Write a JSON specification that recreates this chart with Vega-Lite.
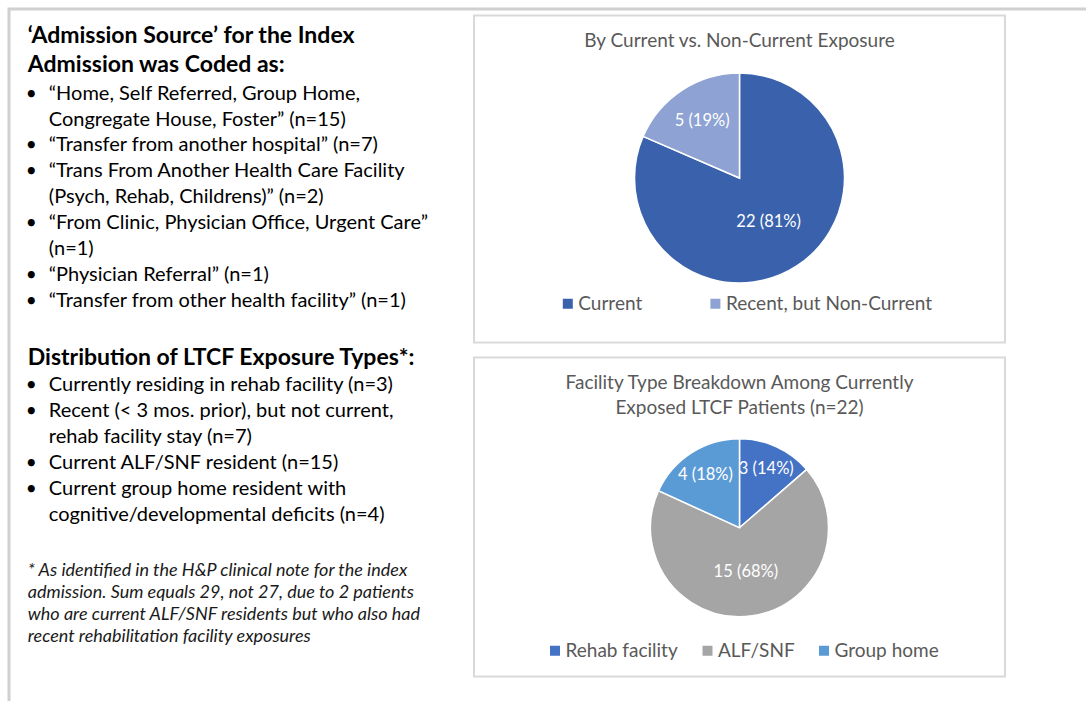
{
  "$schema": "https://vega.github.io/schema/vega-lite/v6.json",
  "background": "white",
  "padding": {"left": 7, "top": 7, "right": 0, "bottom": 0},
  "bounds": "flush",
  "spacing": 0,
  "resolve": {"scale": {"color": "independent", "theta": "independent", "radius": "independent"}, "legend": {"color": "independent"}},
  "config": {"view": {"stroke": null}, "font": "Lato"},
  "datasets": {
    "lines": [
      {"block": "h1", "line": 0, "indent": 0, "bullet": false, "text": "‘Admission Source’ for the Index"},
      {"block": "h1", "line": 1, "indent": 0, "bullet": false, "text": "Admission was Coded as:"},
      {"block": "list1", "line": 0, "indent": 1, "bullet": true, "text": "“Home, Self Referred, Group Home,"},
      {"block": "list1", "line": 1, "indent": 1, "bullet": false, "text": "Congregate House, Foster” (n=15)"},
      {"block": "list1", "line": 2, "indent": 1, "bullet": true, "text": "“Transfer from another hospital” (n=7)"},
      {"block": "list1", "line": 3, "indent": 1, "bullet": true, "text": "“Trans From Another Health Care Facility"},
      {"block": "list1", "line": 4, "indent": 1, "bullet": false, "text": "(Psych, Rehab, Childrens)” (n=2)"},
      {"block": "list1", "line": 5, "indent": 1, "bullet": true, "text": "“From Clinic, Physician Office, Urgent Care”"},
      {"block": "list1", "line": 6, "indent": 1, "bullet": false, "text": "(n=1)"},
      {"block": "list1", "line": 7, "indent": 1, "bullet": true, "text": "“Physician Referral” (n=1)"},
      {"block": "list1", "line": 8, "indent": 1, "bullet": true, "text": "“Transfer from other health facility” (n=1)"},
      {"block": "sec2", "line": 0, "indent": 0, "bullet": false, "heading": true, "text": "Distribution of LTCF Exposure Types*:"},
      {"block": "sec2", "line": 1, "indent": 1, "bullet": true, "heading": false, "text": "Currently residing in rehab facility (n=3)"},
      {"block": "sec2", "line": 2, "indent": 1, "bullet": true, "heading": false, "text": "Recent (< 3 mos. prior), but not current,"},
      {"block": "sec2", "line": 3, "indent": 1, "bullet": false, "heading": false, "text": "rehab facility stay (n=7)"},
      {"block": "sec2", "line": 4, "indent": 1, "bullet": true, "heading": false, "text": "Current ALF/SNF resident (n=15)"},
      {"block": "sec2", "line": 5, "indent": 1, "bullet": true, "heading": false, "text": "Current group home resident with"},
      {"block": "sec2", "line": 6, "indent": 1, "bullet": false, "heading": false, "text": "cognitive/developmental deficits (n=4)"},
      {"block": "note", "line": 0, "indent": 0, "bullet": false, "text": "* As identified in the H&P clinical note for the index"},
      {"block": "note", "line": 1, "indent": 0, "bullet": false, "text": "admission. Sum equals 29, not 27, due to 2 patients"},
      {"block": "note", "line": 2, "indent": 0, "bullet": false, "text": "who are current ALF/SNF residents but who also had"},
      {"block": "note", "line": 3, "indent": 0, "bullet": false, "text": "recent rehabilitation facility exposures"}
    ],
    "exposure": [
      {"exposure": "Current", "patients": 22, "rank": 1, "label": "22 (81%)"},
      {"exposure": "Recent, but Non-Current", "patients": 5, "rank": 2, "label": "5 (19%)"}
    ],
    "facility": [
      {"facility": "Rehab facility", "patients": 3, "rank": 1, "label": "3 (14%)"},
      {"facility": "ALF/SNF", "patients": 15, "rank": 2, "label": "15 (68%)"},
      {"facility": "Group home", "patients": 4, "rank": 3, "label": "4 (18%)"}
    ]
  },
  "hconcat": [
    {
      "width": 465,
      "height": 720,
      "view": {"stroke": "#d0d0d0", "strokeWidth": 3, "strokeDash": [465, 720, 2000]},
      "data": {"name": "lines"},
      "encoding": {
        "x": {"field": "indent", "type": "quantitative", "scale": {"domain": [0, 1], "range": [18.8, 39.8]}, "axis": null},
        "text": {"field": "text"}
      },
      "resolve": {"scale": {"y": "independent"}},
      "layer": [
        {
          "transform": [{"filter": "datum.block == 'h1'"}],
          "mark": {"type": "text", "align": "left", "baseline": "alphabetic", "font": "Lato", "fontWeight": "bold", "fontSize": 23, "color": "#000000"},
          "encoding": {"y": {"field": "line", "type": "ordinal", "scale": {"type": "point", "padding": 0, "range": [34.2, 63.2]}, "axis": null}}
        },
        {
          "transform": [{"filter": "datum.block == 'list1'"}],
          "encoding": {"y": {"field": "line", "type": "ordinal", "scale": {"type": "point", "padding": 0, "range": [90.8, 297.5]}, "axis": null}},
          "layer": [
            {"mark": {"type": "text", "align": "left", "baseline": "alphabetic", "font": "Lato", "fontSize": 20, "color": "#000000"}},
            {
              "transform": [{"filter": "datum.bullet"}],
              "mark": {"type": "text", "align": "center", "baseline": "alphabetic", "font": "Lato", "fontSize": 19, "color": "#000000", "dx": 3.5},
              "encoding": {"x": {"datum": 0}, "text": {"value": "•"}}
            }
          ]
        },
        {
          "transform": [{"filter": "datum.block == 'sec2'"}],
          "encoding": {"y": {"field": "line", "type": "ordinal", "scale": {"type": "point", "padding": 0, "range": [355.8, 512.2]}, "axis": null}},
          "layer": [
            {
              "transform": [{"filter": "datum.heading"}],
              "mark": {"type": "text", "align": "left", "baseline": "alphabetic", "font": "Lato", "fontWeight": "bold", "fontSize": 23, "color": "#000000"}
            },
            {
              "transform": [{"filter": "!datum.heading"}],
              "mark": {"type": "text", "align": "left", "baseline": "alphabetic", "font": "Lato", "fontSize": 20, "color": "#000000"}
            },
            {
              "transform": [{"filter": "datum.bullet"}],
              "mark": {"type": "text", "align": "center", "baseline": "alphabetic", "font": "Lato", "fontSize": 19, "color": "#000000", "dx": 3.5},
              "encoding": {"x": {"datum": 0}, "text": {"value": "•"}}
            }
          ]
        },
        {
          "transform": [{"filter": "datum.block == 'note'"}],
          "mark": {"type": "text", "align": "left", "baseline": "alphabetic", "font": "Lato", "fontStyle": "italic", "fontSize": 18, "color": "#1a1a1a"},
          "encoding": {"y": {"field": "line", "type": "ordinal", "scale": {"type": "point", "padding": 0, "range": [566.5, 632.5]}, "axis": null}}
        }
      ]
    },
    {
      "bounds": "flush",
      "spacing": 5.5,
      "resolve": {"scale": {"color": "independent", "theta": "independent", "radius": "independent"}, "legend": {"color": "independent"}},
      "vconcat": [
        {
          "width": 620,
          "height": 1,
          "view": {"stroke": "#d0d0d0", "strokeWidth": 3, "strokeDash": [620, 5000]},
          "data": {"values": [{"frame": "top"}]},
          "mark": {"type": "text", "baseline": "top", "fontSize": 1},
          "encoding": {"text": {"value": ""}}
        },
        {
          "bounds": "flush",
          "spacing": 15,
          "resolve": {"scale": {"color": "independent", "theta": "independent", "radius": "independent"}, "legend": {"color": "independent"}},
          "vconcat": [
            {
              "width": 531,
              "height": 327,
              "view": {"stroke": "#d9d9d9", "strokeWidth": 2},
              "title": {"text": "By Current vs. Non-Current Exposure", "orient": "top", "anchor": "middle", "frame": "group", "offset": -44.5, "baseline": "middle", "font": "Lato", "fontSize": 19, "fontWeight": "normal", "color": "#595959"},
              "data": {"name": "exposure"},
              "encoding": {
                "theta": {"field": "patients", "type": "quantitative", "stack": true},
                "order": {"field": "rank", "type": "quantitative"}
              },
              "layer": [
                {
                  "mark": {"type": "arc", "outerRadius": 105, "stroke": "white", "strokeWidth": 1.5, "yOffset": -1},
                  "encoding": {
                    "color": {
                      "field": "exposure", "type": "nominal",
                      "scale": {"domain": ["Current", "Recent, but Non-Current"], "range": ["#3A62AC", "#8EA2D3"]},
                      "legend": {"orient": "none", "legendX": 84.3, "legendY": 278.5, "direction": "horizontal", "title": null, "symbolType": "square", "symbolSize": 100, "symbolStrokeWidth": 0, "labelFont": "Lato", "labelFontSize": 19, "labelColor": "#595959", "labelOffset": 1, "columnPadding": 63.6, "labelLimit": 400}
                    }
                  }
                },
                {
                  "mark": {"type": "text", "font": "Lato", "fontSize": 16.5, "color": "white", "align": "center", "baseline": "middle", "yOffset": -1},
                  "encoding": {
                    "detail": {"field": "exposure"},
                    "radius": {"field": "patients", "type": "quantitative", "scale": {"type": "linear", "zero": false, "domain": [5, 22], "range": [68, 53]}},
                    "text": {"field": "label"}
                  }
                }
              ]
            },
            {
              "width": 531,
              "height": 319,
              "view": {"stroke": "#d9d9d9", "strokeWidth": 2},
              "title": {"text": ["Facility Type Breakdown Among Currently", "Exposed LTCF Patients (n=22)"], "lineHeight": 25, "orient": "top", "anchor": "middle", "frame": "group", "offset": -69, "baseline": "middle", "font": "Lato", "fontSize": 19, "fontWeight": "normal", "color": "#595959"},
              "data": {"name": "facility"},
              "encoding": {
                "theta": {"field": "patients", "type": "quantitative", "stack": true},
                "order": {"field": "rank", "type": "quantitative"}
              },
              "layer": [
                {
                  "mark": {"type": "arc", "outerRadius": 89, "stroke": "white", "strokeWidth": 1.5, "yOffset": 10.7},
                  "encoding": {
                    "color": {
                      "field": "facility", "type": "nominal",
                      "scale": {"domain": ["Rehab facility", "ALF/SNF", "Group home"], "range": ["#4472C4", "#A5A5A5", "#5B9BD5"]},
                      "legend": {"orient": "none", "legendX": 71.5, "legendY": 283.5, "direction": "horizontal", "title": null, "symbolType": "square", "symbolSize": 100, "symbolStrokeWidth": 0, "labelFont": "Lato", "labelFontSize": 19, "labelColor": "#595959", "labelOffset": 1, "columnPadding": 19.5, "labelLimit": 400}
                    }
                  }
                },
                {
                  "mark": {"type": "text", "font": "Lato", "fontSize": 16.5, "color": "white", "align": "center", "baseline": "middle", "yOffset": 10.7},
                  "encoding": {
                    "detail": {"field": "facility"},
                    "radius": {"field": "patients", "type": "quantitative", "scale": {"type": "linear", "zero": false, "domain": [3, 15], "range": [64.5, 44.8]}},
                    "text": {"field": "label"}
                  }
                }
              ]
            }
          ]
        }
      ]
    }
  ]
}
